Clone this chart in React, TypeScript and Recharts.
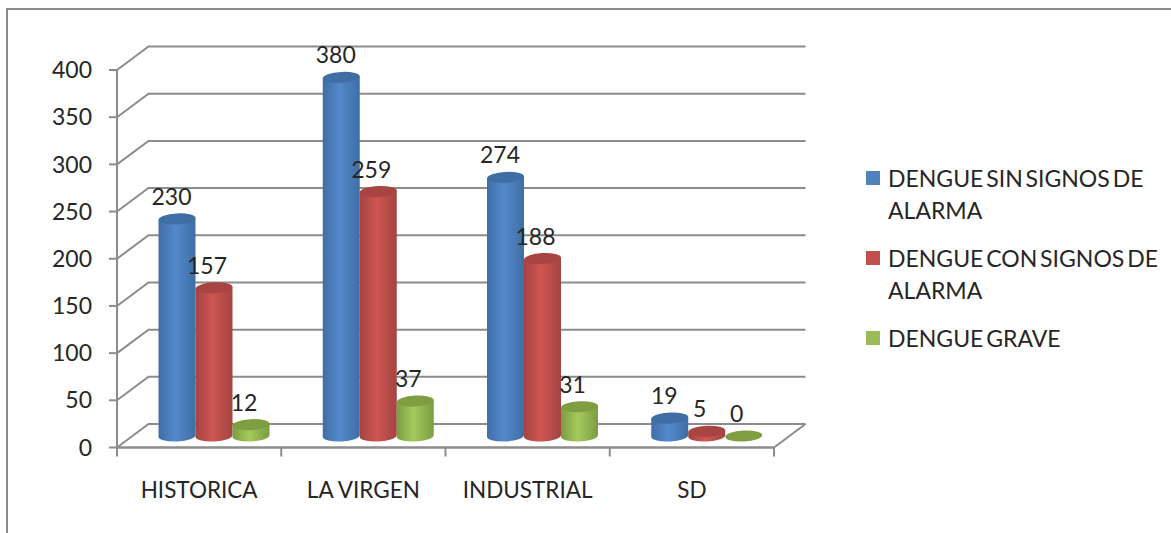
import { BarChart, Bar, XAxis, YAxis, CartesianGrid, Legend, LabelList } from 'recharts';

const zones = ['HISTORICA', 'LA VIRGEN', 'INDUSTRIAL', 'SD'];
const sinSignos = [230, 380, 274, 19];
const conSignos = [157, 259, 188, 5];
const grave = [12, 37, 31, 0];
const yTicks = [0, 50, 100, 150, 200, 250, 300, 350, 400];

const chartData = zones.map((zone, i) => ({
  zone,
  sinSignos: sinSignos[i],
  conSignos: conSignos[i],
  grave: grave[i],
}));

const WIDTH = 1171;
const HEIGHT = 533;
const X_AXIS_HEIGHT = 45;
const Y_AXIS_WIDTH = 60;
const MARGIN = { top: 70, right: 397, bottom: 40.5, left: 57 };
const AXIS = '#8c8c8c';
const TEXT = '#262626';
const FONT = 'Lato';
const FONT_SIZE = 23;
// the 3D look: back wall offset and where the columns stand in the depth
const WALL_DX = 31.5;
const WALL_DY = -23.5;
const BAR_DX = 15.5;
const BAR_DY = -11.5;
const BAND = (WIDTH - MARGIN.left - Y_AXIS_WIDTH - MARGIN.right) / zones.length;

const series = [
  { key: 'sinSignos', name: 'DENGUE SIN SIGNOS DE ALARMA', color: '#4f81bd', edge: '#3f6ea6', mid: '#5489cb', top: '#3e6ea3' },
  { key: 'conSignos', name: 'DENGUE CON SIGNOS DE ALARMA', color: '#c0504d', edge: '#a34441', mid: '#cf5653', top: '#a84441' },
  { key: 'grave', name: 'DENGUE GRAVE', color: '#9bbb59', edge: '#7c9c42', mid: '#a4ca5c', top: '#7f9e42' },
];

function Cylinder({ x, y, width, height, s }: any) {
  const rx = width / 2;
  const ry = 5.5;
  const tilt = 1;
  const bottom = y + height;
  const body = `M${x},${y + tilt} L${x},${bottom + tilt} A${rx},${ry} -3 0 0 ${x + width},${bottom - tilt} L${x + width},${y - tilt} Z`;
  return (
    <g transform={`translate(${BAR_DX},${BAR_DY})`}>
      {height > 0 && <path d={body} fill={`url(#cyl-${s.key})`} />}
      <ellipse
        cx={x + rx}
        cy={y}
        rx={rx}
        ry={ry}
        fill={s.top}
        transform={`rotate(-3 ${x + rx} ${y})`}
      />
    </g>
  );
}

function BarValue({ x, y, width, value, shift }: any) {
  return (
    <text
      x={x + width / 2 + BAR_DX + shift}
      y={y + BAR_DY - 23}
      textAnchor="middle"
      dominantBaseline="central"
      fontFamily={FONT}
      fontSize={FONT_SIZE}
      fill={TEXT}
    >
      {value}
    </text>
  );
}

function WallLine({ x1, y1, x2, y2 }: any) {
  const isFloor = y1 >= HEIGHT - MARGIN.bottom - X_AXIS_HEIGHT - 1;
  return (
    <g fill="none" stroke={AXIS} strokeWidth={2}>
      <polyline points={`${x1},${y1} ${x1 + WALL_DX},${y1 + WALL_DY} ${x2 + WALL_DX},${y2 + WALL_DY}`} />
      {isFloor && <polyline points={`${x1},${y1} ${x2},${y2} ${x2 + WALL_DX},${y2 + WALL_DY}`} />}
    </g>
  );
}

function ZoneTick({ x, y, payload, index }: any) {
  const left = x - BAND / 2;
  return (
    <g>
      <line x1={left} y1={y} x2={left} y2={y + 9} stroke={AXIS} strokeWidth={2} />
      {index === zones.length - 1 && (
        <line x1={x + BAND / 2} y1={y} x2={x + BAND / 2} y2={y + 9} stroke={AXIS} strokeWidth={2} />
      )}
      <text
        x={x}
        y={y + 42}
        textAnchor="middle"
        dominantBaseline="central"
        fontFamily={FONT}
        fontSize={22.5}
        fill={TEXT}
      >
        {payload.value}
      </text>
    </g>
  );
}

function LegendBox() {
  return (
    <div style={{ fontFamily: FONT, fontSize: FONT_SIZE, lineHeight: '32px', color: TEXT, wordSpacing: -3 }}>
      {series.map((s) => (
        <div key={s.key} style={{ position: 'relative', paddingLeft: 22, marginBottom: 16, width: 282 }}>
          <span
            style={{
              position: 'absolute',
              left: 0,
              top: 9,
              width: 14,
              height: 14,
              background: s.color,
            }}
          />
          {s.name}
        </div>
      ))}
    </div>
  );
}

export default function App() {
  return (
    <div style={{ position: 'absolute', left: 0, top: 0, width: WIDTH, height: HEIGHT, background: '#fff', overflow: 'hidden' }}>
      <div
        style={{
          position: 'absolute',
          left: 6,
          top: 8,
          width: WIDTH,
          height: HEIGHT,
          border: `2px solid ${AXIS}`,
        }}
      />
      <BarChart
        width={WIDTH}
        height={HEIGHT}
        data={chartData}
        margin={MARGIN}
        barGap={0}
        barCategoryGap={26}
        style={{ position: 'absolute', left: 0, top: 0 }}
      >
        <defs>
          {series.map((s) => (
            <linearGradient key={s.key} id={`cyl-${s.key}`} x1="0" y1="0" x2="1" y2="0">
              <stop offset="0%" stopColor={s.edge} />
              <stop offset="45%" stopColor={s.mid} />
              <stop offset="100%" stopColor={s.edge} />
            </linearGradient>
          ))}
        </defs>
        <CartesianGrid vertical={false} horizontal={(props: any) => <WallLine key={props.key} {...props} />} />
        <XAxis
          dataKey="zone"
          axisLine={{ stroke: AXIS, strokeWidth: 2 }}
          tickLine={false}
          tickSize={0}
          tickMargin={0}
          tick={<ZoneTick />}
          interval={0}
          height={X_AXIS_HEIGHT}
        />
        <YAxis
          domain={[0, 400]}
          ticks={yTicks}
          width={Y_AXIS_WIDTH}
          axisLine={{ stroke: AXIS, strokeWidth: 2 }}
          tickLine={{ stroke: AXIS, strokeWidth: 2 }}
          tickSize={8}
          tickMargin={17}
          tick={{ fontFamily: FONT, fontSize: FONT_SIZE, fill: TEXT }}
        />
        <Legend
          layout="horizontal"
          align="center"
          verticalAlign="middle"
          content={<LegendBox />}
          wrapperStyle={{ left: 866, top: 162, width: 300, position: 'absolute' }}
        />
        {series.map((s, i) => (
          <Bar
            key={s.key}
            dataKey={s.key}
            name={s.name}
            fill={s.color}
            isAnimationActive={false}
            shape={(props: any) => <Cylinder {...props} s={s} />}
          >
            <LabelList dataKey={s.key} content={(props: any) => <BarValue {...props} shift={i === 0 ? -5.5 : -7} />} />
          </Bar>
        ))}
      </BarChart>
    </div>
  );
}
